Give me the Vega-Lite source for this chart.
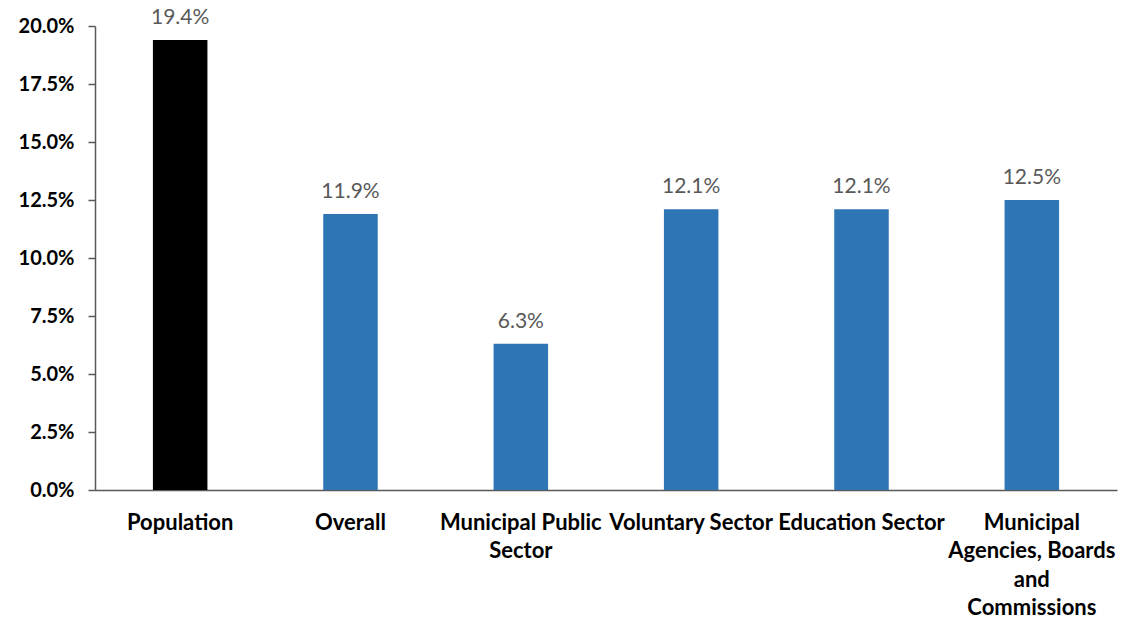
{
  "$schema": "https://vega.github.io/schema/vega-lite/v6.json",
  "autosize": {"type": "none"},
  "padding": {"left": 95, "top": 26, "right": 4, "bottom": 132},
  "width": 1022,
  "height": 464,
  "background": "white",
  "data": {
    "values": [
      {"category": "Population", "value": 0.194, "group": "pop"},
      {"category": "Overall", "value": 0.119, "group": "sector"},
      {"category": "Municipal Public Sector", "value": 0.063, "group": "sector"},
      {"category": "Voluntary Sector", "value": 0.121, "group": "sector"},
      {"category": "Education Sector", "value": 0.121, "group": "sector"},
      {"category": "Municipal Agencies, Boards and Commissions", "value": 0.125, "group": "sector"}
    ]
  },
  "config": {
    "view": {"stroke": null},
    "font": "Lato"
  },
  "encoding": {
    "x": {
      "field": "category",
      "type": "nominal",
      "sort": null,
      "scale": {"paddingInner": 0.68, "paddingOuter": 0.34},
      "axis": {
        "title": null,
        "labelAngle": 0,
        "ticks": false,
        "domainColor": "#595959",
        "domainWidth": 1.5,
        "labelFont": "Lato",
        "labelFontWeight": "bold",
        "labelFontSize": 22,
        "labelColor": "#000000",
        "labelPadding": 32,
        "labelLineHeight": 28.5,
        "labelLimit": 400,
        "labelBaseline": "middle",
        "labelOverlap": false,
        "labelExpr": "datum.value == 'Municipal Public Sector' ? ['Municipal Public', 'Sector'] : datum.value == 'Municipal Agencies, Boards and Commissions' ? ['Municipal', 'Agencies, Boards', 'and', 'Commissions'] : datum.value"
      }
    },
    "y": {
      "field": "value",
      "type": "quantitative",
      "scale": {"domain": [0, 0.2], "nice": false},
      "axis": {
        "title": null,
        "format": ".1%",
        "values": [0, 0.025, 0.05, 0.075, 0.1, 0.125, 0.15, 0.175, 0.2],
        "grid": false,
        "domainColor": "#595959",
        "domainWidth": 1.5,
        "tickColor": "#595959",
        "tickSize": 7,
        "tickWidth": 1.5,
        "labelFont": "Lato",
        "labelFontWeight": "bold",
        "labelFontSize": 20,
        "labelColor": "#000000",
        "labelPadding": 14
      }
    }
  },
  "layer": [
    {
      "mark": {"type": "bar"},
      "encoding": {
        "color": {
          "field": "group",
          "type": "nominal",
          "scale": {"domain": ["pop", "sector"], "range": ["#000000", "#2E75B6"]},
          "legend": null
        }
      }
    },
    {
      "mark": {"type": "text", "baseline": "bottom", "dy": -12, "fontSize": 21, "color": "#595959", "font": "Lato"},
      "encoding": {
        "text": {"field": "value", "type": "quantitative", "format": ".1%"}
      }
    }
  ]
}
